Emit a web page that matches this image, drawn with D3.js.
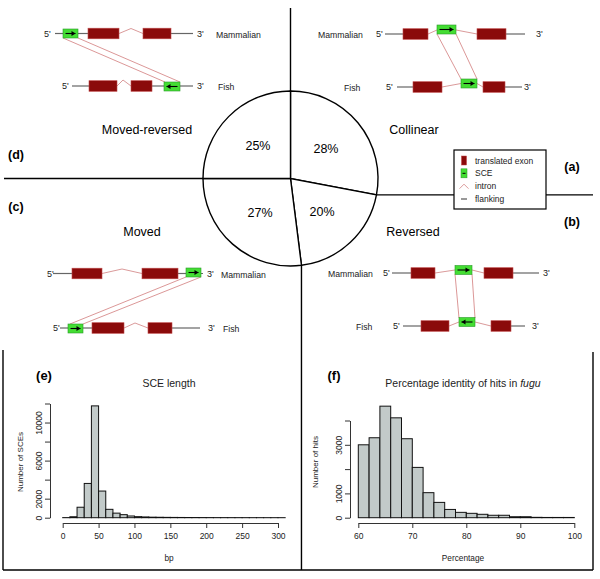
<!DOCTYPE html>
<html lang="en">
<head>
  <meta charset="UTF-8">
  <title>SCE classes</title>
  <script src="https://d3js.org/d3.v7.min.js"></script>
  <style>
    body { margin: 0; background: #fff; }
    svg { font-family: "Liberation Sans", Arial, sans-serif; }
    .axis path, .axis line { fill: none; stroke: #333; stroke-width: 1; }
    .axis text { font-size: 8.5px; fill: #222; }
    .bar { fill: #c2cac9; stroke: #111; stroke-width: 1; }
  </style>
</head>
<body>
  <svg width="600" height="579"></svg>

  <script>
    // pie: classes of SCE arrangement (clockwise from 12 o'clock)
    const pieLabels = ['Collinear', 'Reversed', 'Moved', 'Moved-reversed'];
    const pieValues = [28, 20, 27, 25];
    const panelLetters = ['(a)', '(b)', '(c)', '(d)'];

    // (e) SCE length histogram, 10 bp bins from 0
    const sceBinWidth = 10;
    const sceCounts = [10, 100, 1100, 3600, 11750, 2800, 880, 480, 320, 180,
      110, 80, 55, 45, 35, 30, 25, 20, 18, 15, 12, 10, 10, 8, 7, 6, 5, 5, 4, 4, 3];
    const sceXTicks = [0, 50, 100, 150, 200, 250, 300];
    const sceYTicks = [0, 2000, 4000, 6000, 8000, 10000, 12000];
    const sceYLabels = [0, 2000, 6000, 10000];

    // (f) percentage identity histogram, 2% bins from 60
    const pidStart = 60;
    const pidBinWidth = 2;
    const pidCounts = [3000, 3290, 4590, 4110, 3250, 2070, 1030, 630, 340, 220,
      180, 140, 100, 100, 40, 40, 15, 10, 10, 10];
    const pidXTicks = [60, 70, 80, 90, 100];
    const pidYTicks = [0, 1000, 2000, 3000, 4000];
    const pidYLabels = [0, 1000, 3000];

    const svg = d3.select('svg');
    const font = 'Liberation Sans, Arial, sans-serif';

    // ---------- pie ----------
    const cx = 290.5, cy = 178.5, r = 87.5;
    const pie = d3.pie().sort(null)(pieValues);
    const arc = d3.arc().innerRadius(0).outerRadius(r);
    const labelArc = d3.arc().innerRadius(46).outerRadius(46);

    const pg = svg.append('g').attr('transform', `translate(${cx},${cy})`);
    pg.selectAll('path').data(pie).enter().append('path')
      .attr('d', arc)
      .attr('fill', '#fff')
      .attr('stroke', '#000')
      .attr('stroke-width', 1.4);
    pg.selectAll('text').data(pie).enter().append('text')
      .attr('transform', d => `translate(${labelArc.centroid(d)})`)
      .attr('text-anchor', 'middle')
      .attr('dominant-baseline', 'central')
      .attr('font-size', 12.5)
      .text(d => d.data + '%');

    // boundary lines carried out to the page edges
    const edge = a => [cx + r * Math.sin(a), cy - r * Math.cos(a)];
    const bounds = pie.map(d => d.startAngle);
    const [pTop, pRight, pBottom, pLeft] = bounds.map(edge);
    const rule = (x1, y1, x2, y2) => svg.append('line')
      .attr('x1', x1).attr('y1', y1).attr('x2', x2).attr('y2', y2)
      .attr('stroke', '#000').attr('stroke-width', 1.4);
    rule(pTop[0], pTop[1], pTop[0], 8);
    rule(pRight[0], pRight[1], 593, pRight[1]);
    rule(pBottom[0], pBottom[1], pBottom[0], 570);
    rule(pLeft[0], pLeft[1], 4, pLeft[1]);
    // histogram frames
    rule(3, 350, 3, 570);
    rule(3, 570, 593, 570);
    rule(593, 352, 593, 570);

    // category names and panel letters
    const namePos = [[414, 130], [413, 232], [142, 232], [147, 130]];
    pieLabels.forEach((t, i) => {
      svg.append('text').attr('x', namePos[i][0]).attr('y', namePos[i][1])
        .attr('text-anchor', 'middle').attr('dominant-baseline', 'central')
        .attr('font-size', 12.5).text(t);
    });
    const letterPos = [[572, 167], [572, 222], [16, 207], [16, 155]];
    panelLetters.forEach((t, i) => {
      svg.append('text').attr('x', letterPos[i][0]).attr('y', letterPos[i][1])
        .attr('text-anchor', 'middle').attr('dominant-baseline', 'central')
        .attr('font-size', 12.5).attr('font-weight', 'bold').text(t);
    });

    // ---------- legend ----------
    const lg = svg.append('g');
    lg.append('rect').attr('x', 454).attr('y', 150).attr('width', 92).attr('height', 59)
      .attr('fill', '#fff').attr('stroke', '#000').attr('stroke-width', 1.2);
    const legendItems = ['translated exon', 'SCE', 'intron', 'flanking'];
    const ly = d3.scalePoint().domain(legendItems).range([160.5, 199]);
    lg.append('rect').attr('x', 461.5).attr('y', ly('translated exon') - 4.5)
      .attr('width', 5).attr('height', 9).attr('fill', '#8b0a0a').attr('stroke', '#c04040').attr('stroke-width', 0.5);
    lg.append('rect').attr('x', 461).attr('y', ly('SCE') - 4.5)
      .attr('width', 6).attr('height', 9).attr('fill', '#44dd33').attr('stroke', '#229922').attr('stroke-width', 0.5);
    lg.append('line').attr('x1', 462.5).attr('x2', 465.5).attr('y1', ly('SCE')).attr('y2', ly('SCE'))
      .attr('stroke', '#000').attr('stroke-width', 1);
    lg.append('polyline').attr('points', `459.5,${ly('intron') + 2.5} 464,${ly('intron') - 2} 468.5,${ly('intron') + 2.5}`)
      .attr('fill', 'none').attr('stroke', '#d08080').attr('stroke-width', 0.8);
    lg.append('line').attr('x1', 461).attr('x2', 467).attr('y1', ly('flanking')).attr('y2', ly('flanking'))
      .attr('stroke', '#555').attr('stroke-width', 1.2);
    lg.selectAll('text.leg').data(legendItems).enter().append('text')
      .attr('x', 475).attr('y', d => ly(d))
      .attr('dominant-baseline', 'central').attr('font-size', 8.5).attr('fill', '#222')
      .text(d => d);

    // ---------- gene diagrams ----------
    // each row: centre line y, flank segments, exons, introns (x, dy), SCE box
    const diagrams = [
      { // (d) moved-reversed
        rows: [
          { name: 'Mammalian', nameX: 216, y: 33.5, five: 44, three: 197,
            flanks: [[55, 63], [78, 88], [171, 193]], exons: [[88, 119], [143, 171]],
            introns: [[[119, 0], [131, -5], [143, 0]]], sce: [63, 78, 0, 1] },
          { name: 'Fish', nameX: 218, y: 86, five: 62, three: 197,
            flanks: [[72, 89], [152, 164], [180, 193]], exons: [[89, 117], [131, 152]],
            introns: [[[117, 0], [123, -6], [131, 0]]], sce: [164, 180, 0.5, -1] }
        ],
        links: [[[63, 38], [165, 82]], [[78, 38], [180, 82]]]
      },
      { // (a) collinear
        rows: [
          { name: 'Mammalian', nameX: 318, y: 34, five: 376, three: 536,
            flanks: [[385, 403], [506, 525]], exons: [[403, 428], [477, 506]],
            introns: [[[428, 0], [437, -4]], [[456, -4], [477, 0]]], sce: [437, 456, -4.5, 1] },
          { name: 'Fish', nameX: 344, y: 87, five: 386, three: 524,
            flanks: [[397, 413], [505, 522]], exons: [[413, 442], [483, 505]],
            introns: [[[442, 0], [461, -3.5]], [[477, -3.5], [483, 0]]], sce: [461, 477, -3.5, 1] }
        ],
        links: [[[437, 34], [461, 79]], [[456, 34], [477, 79]]]
      },
      { // (c) moved
        rows: [
          { name: 'Mammalian', nameX: 221, y: 273.5, five: 47, three: 207,
            flanks: [[53, 72], [178, 186], [201, 203]], exons: [[72, 102], [142, 178]],
            introns: [[[102, 0], [122, -4.5], [142, 0]]], sce: [186, 201, -1, 1] },
          { name: 'Fish', nameX: 223, y: 328, five: 53, three: 208,
            flanks: [[60, 68], [83, 92], [172, 200]], exons: [[92, 124], [148, 172]],
            introns: [[[124, 0], [135, -5], [148, 0]]], sce: [68, 83, 0.5, 1] }
        ],
        links: [[[186, 277], [70, 324]], [[201, 277], [83, 324]]]
      },
      { // (b) reversed
        rows: [
          { name: 'Mammalian', nameX: 328, y: 273, five: 383, three: 543,
            flanks: [[392, 411], [513, 539]], exons: [[411, 435], [484, 513]],
            introns: [[[435, 0], [455, -3]], [[472, -3], [484, 0]]], sce: [455, 472, -3, 1] },
          { name: 'Fish', nameX: 356, y: 326, five: 393, three: 532,
            flanks: [[403, 421], [511, 525]], exons: [[421, 449], [491, 511]],
            introns: [[[449, 0], [459, -4]], [[475, -4], [491, 0]]], sce: [459, 475, -4, -1] }
        ],
        links: [[[455, 274], [459, 318]], [[472, 274], [475, 318]]]
      }
    ];

    const dg = svg.append('g');
    diagrams.forEach(dia => {
      dia.links.forEach(l => {
        dg.append('line').attr('x1', l[0][0]).attr('y1', l[0][1]).attr('x2', l[1][0]).attr('y2', l[1][1])
          .attr('stroke', '#cc6a6a').attr('stroke-width', 0.7);
      });
      dia.rows.forEach(row => {
        const y = row.y;
        row.flanks.forEach(f => {
          dg.append('line').attr('x1', f[0]).attr('x2', f[1]).attr('y1', y).attr('y2', y)
            .attr('stroke', '#666').attr('stroke-width', 1.2);
        });
        row.introns.forEach(pts => {
          dg.append('polyline').attr('points', pts.map(p => `${p[0]},${y + p[1]}`).join(' '))
            .attr('fill', 'none').attr('stroke', '#d08080').attr('stroke-width', 0.8);
        });
        row.exons.forEach(e => {
          dg.append('rect').attr('x', e[0]).attr('y', y - 5.3).attr('width', e[1] - e[0]).attr('height', 10.6)
            .attr('fill', '#8b0a0a').attr('stroke', '#c04a4a').attr('stroke-width', 0.6);
        });
        const [s0, s1, sdy, dir] = row.sce;
        const sy = y + sdy;
        dg.append('rect').attr('x', s0).attr('y', sy - 4.5).attr('width', s1 - s0).attr('height', 9)
          .attr('fill', '#44dd33').attr('stroke', '#2a9a2a').attr('stroke-width', 0.6);
        const a0 = dir > 0 ? s0 + 2.5 : s1 - 2.5;
        const a1 = dir > 0 ? s1 - 2.5 : s0 + 2.5;
        dg.append('line').attr('x1', a0).attr('x2', a1).attr('y1', sy).attr('y2', sy)
          .attr('stroke', '#000').attr('stroke-width', 1.1);
        dg.append('path').attr('d', `M${a1},${sy} L${a1 - dir * 4},${sy - 2.5} L${a1 - dir * 4},${sy + 2.5} Z`)
          .attr('fill', '#000');
        dg.append('text').attr('x', row.five).attr('y', y).attr('dominant-baseline', 'central')
          .attr('font-size', 9).attr('fill', '#222').text("5'");
        dg.append('text').attr('x', row.three).attr('y', y).attr('dominant-baseline', 'central')
          .attr('font-size', 9).attr('fill', '#222').text("3'");
        dg.append('text').attr('x', row.nameX).attr('y', y + 1).attr('dominant-baseline', 'central')
          .attr('font-size', 8.7).attr('fill', '#222').text(row.name);
      });
    });

    // ---------- histograms ----------
    function histogram(opt) {
      const g = svg.append('g');
      const x = d3.scaleLinear().domain(opt.xDomain).range(opt.xRange);
      const y = d3.scaleLinear().domain(opt.yDomain).range(opt.yRange);
      const bins = opt.counts.map((c, i) => ({ x0: opt.start + i * opt.width, x1: opt.start + (i + 1) * opt.width, c }));

      g.selectAll('.bar').data(bins).enter().append('rect')
        .attr('class', 'bar')
        .attr('x', d => x(d.x0))
        .attr('width', d => x(d.x1) - x(d.x0))
        .attr('y', d => y(d.c))
        .attr('height', d => y(0) - y(d.c));

      g.append('g').attr('class', 'axis')
        .attr('transform', `translate(0,${opt.xAxisY})`)
        .call(d3.axisBottom(x).tickValues(opt.xTicks).tickSize(5).tickSizeOuter(0).tickPadding(5));

      const ya = g.append('g').attr('class', 'axis')
        .attr('transform', `translate(${opt.yAxisX},0)`)
        .call(d3.axisLeft(y).tickValues(opt.yTicks).tickSize(5).tickSizeOuter(0)
          .tickFormat(d => opt.yLabels.includes(d) ? d : ''));
      ya.selectAll('text')
        .attr('transform', 'rotate(-90)')
        .attr('x', 0).attr('y', -8).attr('dy', 0)
        .attr('text-anchor', 'middle');
      ya.select('.domain').attr('stroke-width', 1);

      g.append('text').attr('x', opt.titleX).attr('y', 383).attr('text-anchor', 'middle')
        .attr('dominant-baseline', 'central').attr('font-size', 10.5).attr('fill', '#222')
        .html(opt.title);
      g.append('text').attr('x', opt.titleX).attr('y', 558).attr('text-anchor', 'middle')
        .attr('dominant-baseline', 'central').attr('font-size', 8.3).attr('fill', '#222')
        .text(opt.xLabel);
      g.append('text').attr('transform', `translate(${opt.yLabelX},462) rotate(-90)`)
        .attr('text-anchor', 'middle').attr('dominant-baseline', 'central')
        .attr('font-size', 8).attr('fill', '#222').text(opt.yLabel);
      g.append('text').attr('x', opt.letterX).attr('y', 375).attr('text-anchor', 'middle')
        .attr('dominant-baseline', 'central').attr('font-size', 13).attr('font-weight', 'bold')
        .text(opt.letter);
    }

    histogram({
      counts: sceCounts, start: 0, width: sceBinWidth,
      xDomain: [0, 300], xRange: [62.7, 278],
      yDomain: [0, 12000], yRange: [517.7, 403.5],
      xTicks: sceXTicks, yTicks: sceYTicks, yLabels: sceYLabels,
      xAxisY: 523, yAxisX: 50,
      title: 'SCE length', titleX: 169, xLabel: 'bp', yLabel: 'Number of SCEs', yLabelX: 20,
      letter: '(e)', letterX: 44
    });

    histogram({
      counts: pidCounts, start: pidStart, width: pidBinWidth,
      xDomain: [60, 100], xRange: [358.3, 574.3],
      yDomain: [0, 4000], yRange: [517.7, 420.5],
      xTicks: pidXTicks, yTicks: pidYTicks, yLabels: pidYLabels,
      xAxisY: 523, yAxisX: 350,
      title: 'Percentage identity of hits in <tspan font-style="italic">fugu</tspan>', titleX: 463,
      xLabel: 'Percentage', yLabel: 'Number of hits', yLabelX: 315,
      letter: '(f)', letterX: 334
    });
  </script>
</body>
</html>
